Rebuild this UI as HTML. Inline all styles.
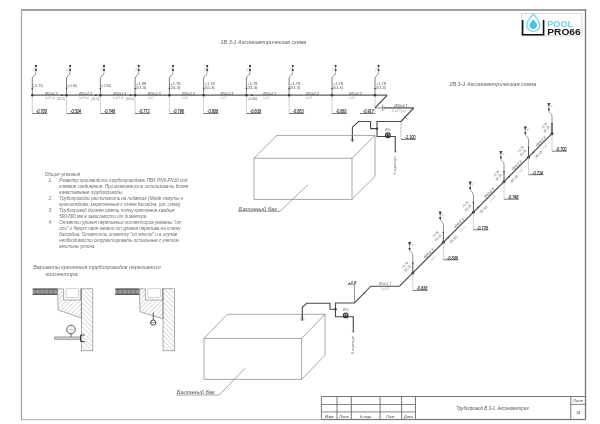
<!DOCTYPE html><html><head><meta charset="utf-8"><style>html,body{margin:0;padding:0;background:#fff;width:600px;height:424px;overflow:hidden}svg{display:block;filter:blur(0.3px)}text{font-family:"Liberation Sans",sans-serif}</style></head><body>
<svg width="600" height="424" viewBox="0 0 600 424">
<rect width="600" height="424" fill="#fff"/>
<line x1="20.90" y1="10.00" x2="586.10" y2="10.00" stroke="#808080" stroke-width="1.5" />
<line x1="21.50" y1="9.30" x2="21.50" y2="420.10" stroke="#a4a4a4" stroke-width="1.2" />
<line x1="585.50" y1="9.30" x2="585.50" y2="420.10" stroke="#747474" stroke-width="1.3" />
<line x1="20.90" y1="419.60" x2="586.10" y2="419.60" stroke="#b8b8b8" stroke-width="1.2" />
<text x="220.6" y="43.8" font-size="5.1" fill="#5a5a5a" font-style="italic" textLength="85.8" lengthAdjust="spacingAndGlyphs">1В 3-1  Аксонометрическая схема</text>
<text x="449.4" y="86.2" font-size="5.1" fill="#5a5a5a" font-style="italic" textLength="86.8" lengthAdjust="spacingAndGlyphs">2В 3-1  Аксонометрическая схема</text>
<line x1="32.30" y1="95.20" x2="387.00" y2="95.20" stroke="#5c5c5c" stroke-width="1.3" />
<line x1="32.30" y1="95.20" x2="32.30" y2="113.50" stroke="#b0b0b0" stroke-width="0.6" />
<line x1="32.30" y1="113.50" x2="47.30" y2="113.50" stroke="#555" stroke-width="0.8" />
<text x="36.00" y="113.40" font-size="5.0" font-style="italic" fill="#333" stroke="#333" stroke-width="0.15" textLength="10.8" lengthAdjust="spacingAndGlyphs">-0.700</text>
<path d="M32.30,95.20 L32.30,78.3 C32.30,76.0 35.90,75.5 35.90,72.5" stroke="#5e5e5e" stroke-width="0.8" fill="none"/>
<path d="M34.70,65.10 L37.10,65.10 L35.90,67.40 Z" fill="#333"/>
<circle cx="35.90" cy="66.10" r="0.8" fill="#333"/>
<circle cx="35.90" cy="70.00" r="1.05" fill="#333"/>
<line x1="35.90" y1="66.50" x2="35.90" y2="72.00" stroke="#555" stroke-width="0.6" />
<text x="34.30" y="70.6" font-size="3.4" fill="#aaa" text-anchor="end" font-style="italic">2</text>
<circle cx="32.30" cy="88.50" r="0.75" fill="#3a3a3a"/>
<circle cx="32.30" cy="95.20" r="1.3" fill="#3a3a3a"/>
<text x="33.30" y="86.6" font-size="3.9" fill="#4a4a4a" textLength="9.5" lengthAdjust="spacingAndGlyphs">(+1.75)</text>
<text x="51.40" y="94.6" font-size="3.7" fill="#4a4a4a" text-anchor="middle" textLength="13" lengthAdjust="spacingAndGlyphs">Ø50x2.3</text>
<text x="44.90" y="98.6" font-size="2.8" fill="#999" textLength="10" lengthAdjust="spacingAndGlyphs">(L=0.5 м)</text>
<line x1="66.50" y1="95.20" x2="66.50" y2="113.50" stroke="#b0b0b0" stroke-width="0.6" />
<line x1="66.50" y1="113.50" x2="81.50" y2="113.50" stroke="#555" stroke-width="0.8" />
<text x="70.20" y="113.40" font-size="5.0" font-style="italic" fill="#333" stroke="#333" stroke-width="0.15" textLength="10.8" lengthAdjust="spacingAndGlyphs">-0.524</text>
<path d="M66.50,95.20 L66.50,78.3 C66.50,76.0 70.10,75.5 70.10,72.5" stroke="#5e5e5e" stroke-width="0.8" fill="none"/>
<path d="M68.90,65.10 L71.30,65.10 L70.10,67.40 Z" fill="#333"/>
<circle cx="70.10" cy="66.10" r="0.8" fill="#333"/>
<circle cx="70.10" cy="70.00" r="1.05" fill="#333"/>
<line x1="70.10" y1="66.50" x2="70.10" y2="72.00" stroke="#555" stroke-width="0.6" />
<text x="68.50" y="70.6" font-size="3.4" fill="#aaa" text-anchor="end" font-style="italic">2</text>
<circle cx="66.50" cy="88.50" r="0.75" fill="#3a3a3a"/>
<circle cx="66.50" cy="95.20" r="1.3" fill="#3a3a3a"/>
<text x="67.50" y="86.6" font-size="3.9" fill="#4a4a4a" textLength="9.5" lengthAdjust="spacingAndGlyphs">(+1.36)</text>
<text x="85.45" y="94.6" font-size="3.7" fill="#4a4a4a" text-anchor="middle" textLength="13" lengthAdjust="spacingAndGlyphs">Ø50x2.3</text>
<text x="78.95" y="98.6" font-size="2.8" fill="#999" textLength="10" lengthAdjust="spacingAndGlyphs">(L=0.5 м)</text>
<circle cx="62.00" cy="95.20" r="0.9" fill="#3a3a3a"/>
<text x="65.00" y="99.6" font-size="3.4" fill="#666" text-anchor="end" textLength="7.5" lengthAdjust="spacingAndGlyphs">(51.5)</text>
<line x1="100.40" y1="95.20" x2="100.40" y2="113.50" stroke="#b0b0b0" stroke-width="0.6" />
<line x1="100.40" y1="113.50" x2="115.40" y2="113.50" stroke="#555" stroke-width="0.8" />
<text x="104.10" y="113.40" font-size="5.0" font-style="italic" fill="#333" stroke="#333" stroke-width="0.15" textLength="10.8" lengthAdjust="spacingAndGlyphs">-0.748</text>
<path d="M100.40,95.20 L100.40,78.3 C100.40,76.0 104.00,75.5 104.00,72.5" stroke="#5e5e5e" stroke-width="0.8" fill="none"/>
<path d="M102.80,65.10 L105.20,65.10 L104.00,67.40 Z" fill="#333"/>
<circle cx="104.00" cy="66.10" r="0.8" fill="#333"/>
<circle cx="104.00" cy="70.00" r="1.05" fill="#333"/>
<line x1="104.00" y1="66.50" x2="104.00" y2="72.00" stroke="#555" stroke-width="0.6" />
<text x="102.40" y="70.6" font-size="3.4" fill="#aaa" text-anchor="end" font-style="italic">2</text>
<circle cx="100.40" cy="88.50" r="0.75" fill="#3a3a3a"/>
<circle cx="100.40" cy="95.20" r="1.3" fill="#3a3a3a"/>
<text x="101.40" y="86.6" font-size="3.9" fill="#4a4a4a" textLength="9.5" lengthAdjust="spacingAndGlyphs">(+1.100)</text>
<text x="119.75" y="94.6" font-size="3.7" fill="#4a4a4a" text-anchor="middle" textLength="13" lengthAdjust="spacingAndGlyphs">Ø50x2.3</text>
<text x="113.25" y="98.6" font-size="2.8" fill="#999" textLength="10" lengthAdjust="spacingAndGlyphs">(L=0.5 м)</text>
<circle cx="95.90" cy="95.20" r="0.9" fill="#3a3a3a"/>
<text x="98.90" y="99.6" font-size="3.4" fill="#666" text-anchor="end" textLength="7.5" lengthAdjust="spacingAndGlyphs">(51.5)</text>
<line x1="135.10" y1="95.20" x2="135.10" y2="113.50" stroke="#b0b0b0" stroke-width="0.6" />
<line x1="135.10" y1="113.50" x2="150.10" y2="113.50" stroke="#555" stroke-width="0.8" />
<text x="138.80" y="113.40" font-size="5.0" font-style="italic" fill="#333" stroke="#333" stroke-width="0.15" textLength="10.8" lengthAdjust="spacingAndGlyphs">-0.772</text>
<path d="M135.10,95.20 L135.10,78.3 C135.10,76.0 138.70,75.5 138.70,72.5" stroke="#5e5e5e" stroke-width="0.8" fill="none"/>
<path d="M137.50,65.10 L139.90,65.10 L138.70,67.40 Z" fill="#333"/>
<circle cx="138.70" cy="66.10" r="0.8" fill="#333"/>
<circle cx="138.70" cy="70.00" r="1.05" fill="#333"/>
<line x1="138.70" y1="66.50" x2="138.70" y2="72.00" stroke="#555" stroke-width="0.6" />
<text x="137.10" y="70.6" font-size="3.4" fill="#aaa" text-anchor="end" font-style="italic">2</text>
<circle cx="135.10" cy="88.50" r="0.75" fill="#3a3a3a"/>
<circle cx="135.10" cy="95.20" r="1.3" fill="#3a3a3a"/>
<text x="136.10" y="84.9" font-size="3.9" fill="#4a4a4a" textLength="10" lengthAdjust="spacingAndGlyphs">+1.98</text>
<text x="136.10" y="88.9" font-size="3.7" fill="#4a4a4a" textLength="10" lengthAdjust="spacingAndGlyphs">(51.3)</text>
<text x="154.25" y="94.6" font-size="3.7" fill="#4a4a4a" text-anchor="middle" textLength="13" lengthAdjust="spacingAndGlyphs">Ø50x2.3</text>
<text x="147.75" y="98.6" font-size="2.8" fill="#999" textLength="6" lengthAdjust="spacingAndGlyphs">L=0.5</text>
<circle cx="130.60" cy="95.20" r="0.9" fill="#3a3a3a"/>
<text x="133.60" y="99.6" font-size="3.4" fill="#666" text-anchor="end" textLength="7.5" lengthAdjust="spacingAndGlyphs">(51.5)</text>
<line x1="169.40" y1="95.20" x2="169.40" y2="113.50" stroke="#b0b0b0" stroke-width="0.6" />
<line x1="169.40" y1="113.50" x2="184.40" y2="113.50" stroke="#555" stroke-width="0.8" />
<text x="173.10" y="113.40" font-size="5.0" font-style="italic" fill="#333" stroke="#333" stroke-width="0.15" textLength="10.8" lengthAdjust="spacingAndGlyphs">-0.796</text>
<path d="M169.40,95.20 L169.40,78.3 C169.40,76.0 173.00,75.5 173.00,72.5" stroke="#5e5e5e" stroke-width="0.8" fill="none"/>
<path d="M171.80,65.10 L174.20,65.10 L173.00,67.40 Z" fill="#333"/>
<circle cx="173.00" cy="66.10" r="0.8" fill="#333"/>
<circle cx="173.00" cy="70.00" r="1.05" fill="#333"/>
<line x1="173.00" y1="66.50" x2="173.00" y2="72.00" stroke="#555" stroke-width="0.6" />
<text x="171.40" y="70.6" font-size="3.4" fill="#aaa" text-anchor="end" font-style="italic">2</text>
<circle cx="169.40" cy="88.50" r="0.75" fill="#3a3a3a"/>
<circle cx="169.40" cy="95.20" r="1.3" fill="#3a3a3a"/>
<text x="170.40" y="84.9" font-size="3.9" fill="#4a4a4a" textLength="10" lengthAdjust="spacingAndGlyphs">+1.78</text>
<text x="170.40" y="88.9" font-size="3.7" fill="#4a4a4a" textLength="10" lengthAdjust="spacingAndGlyphs">(51.3)</text>
<text x="188.50" y="94.6" font-size="3.7" fill="#4a4a4a" text-anchor="middle" textLength="13" lengthAdjust="spacingAndGlyphs">Ø50x2.3</text>
<text x="182.00" y="98.6" font-size="2.8" fill="#999" textLength="6" lengthAdjust="spacingAndGlyphs">L=0.5</text>
<line x1="203.60" y1="95.20" x2="203.60" y2="113.50" stroke="#b0b0b0" stroke-width="0.6" />
<line x1="203.60" y1="113.50" x2="218.60" y2="113.50" stroke="#555" stroke-width="0.8" />
<text x="207.30" y="113.40" font-size="5.0" font-style="italic" fill="#333" stroke="#333" stroke-width="0.15" textLength="10.8" lengthAdjust="spacingAndGlyphs">-0.808</text>
<path d="M203.60,95.20 L203.60,78.3 C203.60,76.0 207.20,75.5 207.20,72.5" stroke="#5e5e5e" stroke-width="0.8" fill="none"/>
<path d="M206.00,65.10 L208.40,65.10 L207.20,67.40 Z" fill="#333"/>
<circle cx="207.20" cy="66.10" r="0.8" fill="#333"/>
<circle cx="207.20" cy="70.00" r="1.05" fill="#333"/>
<line x1="207.20" y1="66.50" x2="207.20" y2="72.00" stroke="#555" stroke-width="0.6" />
<text x="205.60" y="70.6" font-size="3.4" fill="#aaa" text-anchor="end" font-style="italic">2</text>
<circle cx="203.60" cy="88.50" r="0.75" fill="#3a3a3a"/>
<circle cx="203.60" cy="95.20" r="1.3" fill="#3a3a3a"/>
<text x="204.60" y="84.9" font-size="3.9" fill="#4a4a4a" textLength="10" lengthAdjust="spacingAndGlyphs">+1.78</text>
<text x="204.60" y="88.9" font-size="3.7" fill="#4a4a4a" textLength="10" lengthAdjust="spacingAndGlyphs">(51.3)</text>
<text x="227.00" y="94.6" font-size="3.7" fill="#4a4a4a" text-anchor="middle" textLength="13" lengthAdjust="spacingAndGlyphs">Ø50x2.3</text>
<text x="220.50" y="98.6" font-size="2.8" fill="#999" textLength="6" lengthAdjust="spacingAndGlyphs">L=0.5</text>
<line x1="246.40" y1="95.20" x2="246.40" y2="113.50" stroke="#b0b0b0" stroke-width="0.6" />
<line x1="246.40" y1="113.50" x2="261.40" y2="113.50" stroke="#555" stroke-width="0.8" />
<text x="250.10" y="113.40" font-size="5.0" font-style="italic" fill="#333" stroke="#333" stroke-width="0.15" textLength="10.8" lengthAdjust="spacingAndGlyphs">-0.838</text>
<path d="M246.40,95.20 L246.40,78.3 C246.40,76.0 250.00,75.5 250.00,72.5" stroke="#5e5e5e" stroke-width="0.8" fill="none"/>
<path d="M248.80,65.10 L251.20,65.10 L250.00,67.40 Z" fill="#333"/>
<circle cx="250.00" cy="66.10" r="0.8" fill="#333"/>
<circle cx="250.00" cy="70.00" r="1.05" fill="#333"/>
<line x1="250.00" y1="66.50" x2="250.00" y2="72.00" stroke="#555" stroke-width="0.6" />
<text x="248.40" y="70.6" font-size="3.4" fill="#aaa" text-anchor="end" font-style="italic">2</text>
<circle cx="246.40" cy="88.50" r="0.75" fill="#3a3a3a"/>
<circle cx="246.40" cy="95.20" r="1.3" fill="#3a3a3a"/>
<text x="247.40" y="84.9" font-size="3.9" fill="#4a4a4a" textLength="10" lengthAdjust="spacingAndGlyphs">+1.78</text>
<text x="247.40" y="88.9" font-size="3.7" fill="#4a4a4a" textLength="10" lengthAdjust="spacingAndGlyphs">(51.3)</text>
<text x="269.75" y="94.6" font-size="3.7" fill="#4a4a4a" text-anchor="middle" textLength="13" lengthAdjust="spacingAndGlyphs">Ø50x2.3</text>
<text x="263.25" y="98.6" font-size="2.8" fill="#999" textLength="6" lengthAdjust="spacingAndGlyphs">L=0.5</text>
<circle cx="251.80" cy="95.20" r="0.9" fill="#3a3a3a"/>
<text x="247.60" y="99.6" font-size="3.4" fill="#666" textLength="10" lengthAdjust="spacingAndGlyphs">+0.802</text>
<line x1="289.10" y1="95.20" x2="289.10" y2="113.50" stroke="#b0b0b0" stroke-width="0.6" />
<line x1="289.10" y1="113.50" x2="304.10" y2="113.50" stroke="#555" stroke-width="0.8" />
<text x="292.80" y="113.40" font-size="5.0" font-style="italic" fill="#333" stroke="#333" stroke-width="0.15" textLength="10.8" lengthAdjust="spacingAndGlyphs">-0.853</text>
<path d="M289.10,95.20 L289.10,78.3 C289.10,76.0 292.70,75.5 292.70,72.5" stroke="#5e5e5e" stroke-width="0.8" fill="none"/>
<path d="M291.50,65.10 L293.90,65.10 L292.70,67.40 Z" fill="#333"/>
<circle cx="292.70" cy="66.10" r="0.8" fill="#333"/>
<circle cx="292.70" cy="70.00" r="1.05" fill="#333"/>
<line x1="292.70" y1="66.50" x2="292.70" y2="72.00" stroke="#555" stroke-width="0.6" />
<text x="291.10" y="70.6" font-size="3.4" fill="#aaa" text-anchor="end" font-style="italic">2</text>
<circle cx="289.10" cy="88.50" r="0.75" fill="#3a3a3a"/>
<circle cx="289.10" cy="95.20" r="1.3" fill="#3a3a3a"/>
<text x="290.10" y="84.9" font-size="3.9" fill="#4a4a4a" textLength="10" lengthAdjust="spacingAndGlyphs">+1.78</text>
<text x="290.10" y="88.9" font-size="3.7" fill="#4a4a4a" textLength="10" lengthAdjust="spacingAndGlyphs">(51.3)</text>
<text x="312.55" y="94.6" font-size="3.7" fill="#4a4a4a" text-anchor="middle" textLength="13" lengthAdjust="spacingAndGlyphs">Ø50x2.3</text>
<text x="306.05" y="98.6" font-size="2.8" fill="#999" textLength="6" lengthAdjust="spacingAndGlyphs">L=0.5</text>
<line x1="332.00" y1="95.20" x2="332.00" y2="113.50" stroke="#b0b0b0" stroke-width="0.6" />
<line x1="332.00" y1="113.50" x2="347.00" y2="113.50" stroke="#555" stroke-width="0.8" />
<text x="335.70" y="113.40" font-size="5.0" font-style="italic" fill="#333" stroke="#333" stroke-width="0.15" textLength="10.8" lengthAdjust="spacingAndGlyphs">-0.883</text>
<path d="M332.00,95.20 L332.00,78.3 C332.00,76.0 335.60,75.5 335.60,72.5" stroke="#5e5e5e" stroke-width="0.8" fill="none"/>
<path d="M334.40,65.10 L336.80,65.10 L335.60,67.40 Z" fill="#333"/>
<circle cx="335.60" cy="66.10" r="0.8" fill="#333"/>
<circle cx="335.60" cy="70.00" r="1.05" fill="#333"/>
<line x1="335.60" y1="66.50" x2="335.60" y2="72.00" stroke="#555" stroke-width="0.6" />
<text x="334.00" y="70.6" font-size="3.4" fill="#aaa" text-anchor="end" font-style="italic">2</text>
<circle cx="332.00" cy="88.50" r="0.75" fill="#3a3a3a"/>
<circle cx="332.00" cy="95.20" r="1.3" fill="#3a3a3a"/>
<text x="333.00" y="84.9" font-size="3.9" fill="#4a4a4a" textLength="10" lengthAdjust="spacingAndGlyphs">+1.78</text>
<text x="333.00" y="88.9" font-size="3.7" fill="#4a4a4a" textLength="10" lengthAdjust="spacingAndGlyphs">(51.3)</text>
<text x="355.50" y="94.6" font-size="3.7" fill="#4a4a4a" text-anchor="middle" textLength="13" lengthAdjust="spacingAndGlyphs">Ø50x2.3</text>
<text x="349.00" y="98.6" font-size="2.8" fill="#999" textLength="6" lengthAdjust="spacingAndGlyphs">L=0.5</text>
<line x1="375.00" y1="95.20" x2="375.00" y2="113.50" stroke="#b0b0b0" stroke-width="0.6" />
<line x1="360.00" y1="113.50" x2="375.00" y2="113.50" stroke="#555" stroke-width="0.8" />
<text x="363.00" y="113.40" font-size="5.0" font-style="italic" fill="#333" stroke="#333" stroke-width="0.15" textLength="10.8" lengthAdjust="spacingAndGlyphs">-0.917</text>
<path d="M375.00,95.20 L375.00,78.3 C375.00,76.0 378.60,75.5 378.60,72.5" stroke="#5e5e5e" stroke-width="0.8" fill="none"/>
<path d="M377.40,65.10 L379.80,65.10 L378.60,67.40 Z" fill="#333"/>
<circle cx="378.60" cy="66.10" r="0.8" fill="#333"/>
<circle cx="378.60" cy="70.00" r="1.05" fill="#333"/>
<line x1="378.60" y1="66.50" x2="378.60" y2="72.00" stroke="#555" stroke-width="0.6" />
<text x="377.00" y="70.6" font-size="3.4" fill="#aaa" text-anchor="end" font-style="italic">2</text>
<circle cx="375.00" cy="88.50" r="0.75" fill="#3a3a3a"/>
<circle cx="375.00" cy="95.20" r="1.3" fill="#3a3a3a"/>
<text x="376.00" y="84.9" font-size="3.9" fill="#4a4a4a" textLength="10" lengthAdjust="spacingAndGlyphs">+1.78</text>
<text x="376.00" y="88.9" font-size="3.7" fill="#4a4a4a" textLength="10" lengthAdjust="spacingAndGlyphs">(51.3)</text>
<polyline points="387.30,95.20 375.00,107.90" stroke="#474747" stroke-width="1.2" fill="none" />
<line x1="375.00" y1="107.90" x2="382.60" y2="107.90" stroke="#777" stroke-width="0.8" />
<line x1="383.40" y1="107.90" x2="413.80" y2="107.90" stroke="#474747" stroke-width="1.2" />
<polyline points="413.80,107.90 401.00,121.50" stroke="#474747" stroke-width="1.2" fill="none" />
<text x="401" y="107.3" font-size="3.7" fill="#4a4a4a" text-anchor="middle" textLength="13" lengthAdjust="spacingAndGlyphs">Ø50x2.7</text>
<text x="399.00" y="111.60" font-size="2.8" fill="#999" text-anchor="middle" >(L=0.75 м)</text>
<line x1="382.60" y1="104.60" x2="382.60" y2="111.00" stroke="#666" stroke-width="0.7" />
<line x1="384.20" y1="105.80" x2="384.20" y2="110.00" stroke="#888" stroke-width="0.5" />
<line x1="404.50" y1="116.50" x2="407.50" y2="119.50" stroke="#555" stroke-width="0.6" />
<line x1="401.00" y1="121.50" x2="401.00" y2="139.40" stroke="#aaa" stroke-width="0.7" />
<line x1="401.00" y1="139.40" x2="416.00" y2="139.40" stroke="#555" stroke-width="0.8" />
<text x="404.70" y="139.30" font-size="5.0" font-style="italic" fill="#333" stroke="#333" stroke-width="0.15" textLength="10.8" lengthAdjust="spacingAndGlyphs">-1.100</text>
<polyline points="401.00,121.50 377.00,121.50 377.00,136.50 395.30,136.50 395.30,152.00" stroke="#474747" stroke-width="1.1" fill="none" />
<line x1="393.80" y1="152.00" x2="396.80" y2="152.00" stroke="#555" stroke-width="0.5" />
<polyline points="352.40,141.50 352.40,127.20 358.60,121.50 370.60,121.50 370.60,128.60 377.00,128.60" stroke="#474747" stroke-width="1.1" fill="none" />
<circle cx="377.00" cy="128.60" r="1.2" fill="#3a3a3a"/>
<circle cx="387.8" cy="135.2" r="2.3" fill="none" stroke="#3a3a3a" stroke-width="1.3"/>
<path d="M385.3,137.2 L387.8,133.6 L390.3,137.2 Z" fill="#3a3a3a"/>
<text x="387.80" y="130.60" font-size="3.0" fill="#6e6e6e" text-anchor="middle" >Ø50</text>
<text x="395.3" y="165.5" font-size="3.0" fill="#777" text-anchor="middle" transform="rotate(-90 395.3 165.5)" dy="1">В подающую</text>
<ellipse cx="352.4" cy="140.0" rx="2.3" ry="1.7" fill="#c8c8c8"/>
<line x1="352.40" y1="136.50" x2="352.40" y2="141.50" stroke="#474747" stroke-width="1.1" />
<rect x="254.0" y="158.2" width="98.0" height="41.10000000000002" fill="none" stroke="#8a8a8a" stroke-width="0.75"/>
<polyline points="254.00,158.20 277.00,135.40 375.00,135.40 375.00,176.50 352.00,199.30" stroke="#8a8a8a" stroke-width="0.75" fill="none" />
<line x1="352.00" y1="158.20" x2="375.00" y2="135.40" stroke="#8a8a8a" stroke-width="0.75" />
<polyline points="308.00,184.70 280.00,211.30 238.00,211.30" stroke="#666" stroke-width="0.6" fill="none" />
<text x="238.6" y="210.6" font-size="5.4" fill="#555" font-style="italic" textLength="38.5" lengthAdjust="spacingAndGlyphs">Балонный бак</text>
<rect x="204.0" y="338.3" width="97.69999999999999" height="41.0" fill="none" stroke="#8a8a8a" stroke-width="0.75"/>
<polyline points="204.00,338.30 227.30,314.30 325.00,314.30 325.00,355.30 301.70,379.30" stroke="#8a8a8a" stroke-width="0.75" fill="none" />
<line x1="301.70" y1="338.30" x2="325.00" y2="314.30" stroke="#8a8a8a" stroke-width="0.75" />
<polyline points="245.00,368.30 219.20,395.00 176.00,395.00" stroke="#666" stroke-width="0.6" fill="none" />
<text x="176.8" y="394.3" font-size="5.4" fill="#555" font-style="italic" textLength="38.0" lengthAdjust="spacingAndGlyphs">Балонный бак</text>
<line x1="552.00" y1="133.70" x2="399.50" y2="286.20" stroke="#4e4e4e" stroke-width="1.2" />
<circle cx="552.00" cy="133.70" r="1.5" fill="#3a3a3a"/>
<line x1="552.00" y1="133.70" x2="552.00" y2="151.20" stroke="#b5b5b5" stroke-width="0.6" />
<line x1="552.00" y1="151.20" x2="567.00" y2="151.20" stroke="#555" stroke-width="0.8" />
<text x="555.70" y="151.10" font-size="5.0" font-style="italic" fill="#333" stroke="#333" stroke-width="0.15" textLength="10.8" lengthAdjust="spacingAndGlyphs">-0.700</text>
<line x1="552.00" y1="133.70" x2="552.00" y2="123.20" stroke="#333" stroke-width="1.3" />
<circle cx="552.00" cy="123.70" r="0.8" fill="#3a3a3a"/>
<path d="M552.00,123.70 L552.00,116.20 C552.00,113.20 548.90,113.20 548.90,110.50" stroke="#777" stroke-width="0.8" fill="none"/>
<path d="M547.30,102.90 L550.30,102.90 L549.20,106.10 L548.40,106.10 Z" fill="#3a3a3a"/>
<line x1="548.80" y1="105.50" x2="548.80" y2="109.50" stroke="#555" stroke-width="0.6" />
<circle cx="548.80" cy="109.50" r="1.05" fill="#333"/>
<path d="M551.00,107.70 L551.00,105.50 L552.80,104.90" stroke="#aaa" stroke-width="0.5" fill="none"/>
<text x="544.00" y="125.70" dy="1.2" font-size="3.5" fill="#444" text-anchor="middle" transform="rotate(-45 544.00 125.70)" textLength="7.5" lengthAdjust="spacingAndGlyphs">+1.78</text>
<text x="546.40" y="129.10" dy="1.2" font-size="3.3" fill="#444" text-anchor="middle" transform="rotate(-45 546.40 129.10)" textLength="7.5" lengthAdjust="spacingAndGlyphs">(51.3)</text>
<text x="541.75" y="142.15" font-size="3.6" fill="#4a4a4a" text-anchor="middle" transform="rotate(-45 541.75 142.15)" textLength="12.5" lengthAdjust="spacingAndGlyphs">Ø50x2.3</text>
<text x="544.25" y="147.05" dy="1.0" font-size="2.7" fill="#999" text-anchor="middle" transform="rotate(-45 544.25 147.05)">L=0.5</text>
<circle cx="528.50" cy="157.20" r="1.5" fill="#3a3a3a"/>
<line x1="528.50" y1="157.20" x2="528.50" y2="174.70" stroke="#b5b5b5" stroke-width="0.6" />
<line x1="528.50" y1="174.70" x2="543.50" y2="174.70" stroke="#555" stroke-width="0.8" />
<text x="532.20" y="174.60" font-size="5.0" font-style="italic" fill="#333" stroke="#333" stroke-width="0.15" textLength="10.8" lengthAdjust="spacingAndGlyphs">-0.724</text>
<line x1="528.50" y1="157.20" x2="528.50" y2="146.70" stroke="#555" stroke-width="1.0" />
<circle cx="528.50" cy="147.20" r="0.8" fill="#3a3a3a"/>
<path d="M528.50,147.20 L528.50,139.70 C528.50,136.70 525.40,136.70 525.40,134.00" stroke="#777" stroke-width="0.8" fill="none"/>
<path d="M523.80,126.40 L526.80,126.40 L525.70,129.60 L524.90,129.60 Z" fill="#3a3a3a"/>
<line x1="525.30" y1="129.00" x2="525.30" y2="133.00" stroke="#555" stroke-width="0.6" />
<circle cx="525.30" cy="133.00" r="1.05" fill="#333"/>
<path d="M527.50,131.20 L527.50,129.00 L529.30,128.40" stroke="#aaa" stroke-width="0.5" fill="none"/>
<text x="520.50" y="149.20" dy="1.2" font-size="3.5" fill="#444" text-anchor="middle" transform="rotate(-45 520.50 149.20)" textLength="7.5" lengthAdjust="spacingAndGlyphs">+1.78</text>
<text x="522.90" y="152.60" dy="1.2" font-size="3.3" fill="#444" text-anchor="middle" transform="rotate(-45 522.90 152.60)" textLength="7.5" lengthAdjust="spacingAndGlyphs">(51.3)</text>
<text x="517.75" y="166.15" font-size="3.6" fill="#4a4a4a" text-anchor="middle" transform="rotate(-45 517.75 166.15)" textLength="12.5" lengthAdjust="spacingAndGlyphs">Ø50x2.3</text>
<text x="520.25" y="171.05" dy="1.0" font-size="2.7" fill="#999" text-anchor="middle" transform="rotate(-45 520.25 171.05)">L=0.5</text>
<text x="538.40" y="154.40" dy="1.2" font-size="3.4" fill="#555" text-anchor="middle" transform="rotate(-45 538.40 154.40)" textLength="9" lengthAdjust="spacingAndGlyphs">(46.52)</text>
<circle cx="533.40" cy="152.30" r="0.85" fill="#3a3a3a"/>
<circle cx="504.00" cy="181.70" r="1.5" fill="#3a3a3a"/>
<line x1="504.00" y1="181.70" x2="504.00" y2="199.20" stroke="#b5b5b5" stroke-width="0.6" />
<line x1="504.00" y1="199.20" x2="519.00" y2="199.20" stroke="#555" stroke-width="0.8" />
<text x="507.70" y="199.10" font-size="5.0" font-style="italic" fill="#333" stroke="#333" stroke-width="0.15" textLength="10.8" lengthAdjust="spacingAndGlyphs">-0.748</text>
<line x1="504.00" y1="181.70" x2="504.00" y2="171.20" stroke="#555" stroke-width="1.0" />
<circle cx="504.00" cy="171.70" r="0.8" fill="#3a3a3a"/>
<path d="M504.00,171.70 L504.00,164.20 C504.00,161.20 500.90,161.20 500.90,158.50" stroke="#777" stroke-width="0.8" fill="none"/>
<path d="M499.30,150.90 L502.30,150.90 L501.20,154.10 L500.40,154.10 Z" fill="#3a3a3a"/>
<line x1="500.80" y1="153.50" x2="500.80" y2="157.50" stroke="#555" stroke-width="0.6" />
<circle cx="500.80" cy="157.50" r="1.05" fill="#333"/>
<path d="M503.00,155.70 L503.00,153.50 L504.80,152.90" stroke="#aaa" stroke-width="0.5" fill="none"/>
<text x="496.00" y="173.70" dy="1.2" font-size="3.5" fill="#444" text-anchor="middle" transform="rotate(-45 496.00 173.70)" textLength="7.5" lengthAdjust="spacingAndGlyphs">+1.78</text>
<text x="498.40" y="177.10" dy="1.2" font-size="3.3" fill="#444" text-anchor="middle" transform="rotate(-45 498.40 177.10)" textLength="7.5" lengthAdjust="spacingAndGlyphs">(51.3)</text>
<text x="490.20" y="193.70" font-size="3.6" fill="#4a4a4a" text-anchor="middle" transform="rotate(-45 490.20 193.70)" textLength="12.5" lengthAdjust="spacingAndGlyphs">Ø50x2.3</text>
<text x="492.70" y="198.60" dy="1.0" font-size="2.7" fill="#999" text-anchor="middle" transform="rotate(-45 492.70 198.60)">L=0.5</text>
<text x="513.90" y="178.90" dy="1.2" font-size="3.4" fill="#555" text-anchor="middle" transform="rotate(-45 513.90 178.90)" textLength="9" lengthAdjust="spacingAndGlyphs">(46.52)</text>
<circle cx="508.90" cy="176.80" r="0.85" fill="#3a3a3a"/>
<circle cx="473.40" cy="212.30" r="1.5" fill="#3a3a3a"/>
<line x1="473.40" y1="212.30" x2="473.40" y2="229.80" stroke="#b5b5b5" stroke-width="0.6" />
<line x1="473.40" y1="229.80" x2="488.40" y2="229.80" stroke="#555" stroke-width="0.8" />
<text x="477.10" y="229.70" font-size="5.0" font-style="italic" fill="#333" stroke="#333" stroke-width="0.15" textLength="10.8" lengthAdjust="spacingAndGlyphs">-0.778</text>
<line x1="473.40" y1="212.30" x2="473.40" y2="201.80" stroke="#555" stroke-width="1.0" />
<circle cx="473.40" cy="202.30" r="0.8" fill="#3a3a3a"/>
<path d="M473.40,202.30 L473.40,194.80 C473.40,191.80 470.30,191.80 470.30,189.10" stroke="#777" stroke-width="0.8" fill="none"/>
<path d="M468.70,181.50 L471.70,181.50 L470.60,184.70 L469.80,184.70 Z" fill="#3a3a3a"/>
<line x1="470.20" y1="184.10" x2="470.20" y2="188.10" stroke="#555" stroke-width="0.6" />
<circle cx="470.20" cy="188.10" r="1.05" fill="#333"/>
<path d="M472.40,186.30 L472.40,184.10 L474.20,183.50" stroke="#aaa" stroke-width="0.5" fill="none"/>
<text x="465.40" y="204.30" dy="1.2" font-size="3.5" fill="#444" text-anchor="middle" transform="rotate(-45 465.40 204.30)" textLength="7.5" lengthAdjust="spacingAndGlyphs">+1.78</text>
<text x="467.80" y="207.70" dy="1.2" font-size="3.3" fill="#444" text-anchor="middle" transform="rotate(-45 467.80 207.70)" textLength="7.5" lengthAdjust="spacingAndGlyphs">(51.3)</text>
<text x="459.90" y="224.00" font-size="3.6" fill="#4a4a4a" text-anchor="middle" transform="rotate(-45 459.90 224.00)" textLength="12.5" lengthAdjust="spacingAndGlyphs">Ø50x2.3</text>
<text x="462.40" y="228.90" dy="1.0" font-size="2.7" fill="#999" text-anchor="middle" transform="rotate(-45 462.40 228.90)">L=0.5</text>
<text x="483.30" y="209.50" dy="1.2" font-size="3.4" fill="#555" text-anchor="middle" transform="rotate(-45 483.30 209.50)" textLength="9" lengthAdjust="spacingAndGlyphs">(46.52)</text>
<circle cx="478.30" cy="207.40" r="0.85" fill="#3a3a3a"/>
<circle cx="443.40" cy="242.30" r="1.5" fill="#3a3a3a"/>
<line x1="443.40" y1="242.30" x2="443.40" y2="259.80" stroke="#b5b5b5" stroke-width="0.6" />
<line x1="443.40" y1="259.80" x2="458.40" y2="259.80" stroke="#555" stroke-width="0.8" />
<text x="447.10" y="259.70" font-size="5.0" font-style="italic" fill="#333" stroke="#333" stroke-width="0.15" textLength="10.8" lengthAdjust="spacingAndGlyphs">-0.808</text>
<line x1="443.40" y1="242.30" x2="443.40" y2="231.80" stroke="#555" stroke-width="1.0" />
<circle cx="443.40" cy="232.30" r="0.8" fill="#3a3a3a"/>
<path d="M443.40,232.30 L443.40,224.80 C443.40,221.80 440.30,221.80 440.30,219.10" stroke="#777" stroke-width="0.8" fill="none"/>
<path d="M438.70,211.50 L441.70,211.50 L440.60,214.70 L439.80,214.70 Z" fill="#3a3a3a"/>
<line x1="440.20" y1="214.10" x2="440.20" y2="218.10" stroke="#555" stroke-width="0.6" />
<circle cx="440.20" cy="218.10" r="1.05" fill="#333"/>
<path d="M442.40,216.30 L442.40,214.10 L444.20,213.50" stroke="#aaa" stroke-width="0.5" fill="none"/>
<text x="435.40" y="234.30" dy="1.2" font-size="3.5" fill="#444" text-anchor="middle" transform="rotate(-45 435.40 234.30)" textLength="7.5" lengthAdjust="spacingAndGlyphs">+1.78</text>
<text x="437.80" y="237.70" dy="1.2" font-size="3.3" fill="#444" text-anchor="middle" transform="rotate(-45 437.80 237.70)" textLength="7.5" lengthAdjust="spacingAndGlyphs">(51.3)</text>
<text x="429.60" y="254.30" font-size="3.6" fill="#4a4a4a" text-anchor="middle" transform="rotate(-45 429.60 254.30)" textLength="12.5" lengthAdjust="spacingAndGlyphs">Ø50x2.3</text>
<text x="432.10" y="259.20" dy="1.0" font-size="2.7" fill="#999" text-anchor="middle" transform="rotate(-45 432.10 259.20)">L=0.5</text>
<text x="453.30" y="239.50" dy="1.2" font-size="3.4" fill="#555" text-anchor="middle" transform="rotate(-45 453.30 239.50)" textLength="9" lengthAdjust="spacingAndGlyphs">(46.52)</text>
<circle cx="448.30" cy="237.40" r="0.85" fill="#3a3a3a"/>
<circle cx="412.80" cy="272.90" r="1.5" fill="#3a3a3a"/>
<line x1="412.80" y1="272.90" x2="412.80" y2="290.40" stroke="#b5b5b5" stroke-width="0.6" />
<line x1="412.80" y1="290.40" x2="427.80" y2="290.40" stroke="#555" stroke-width="0.8" />
<text x="416.50" y="290.30" font-size="5.0" font-style="italic" fill="#333" stroke="#333" stroke-width="0.15" textLength="10.8" lengthAdjust="spacingAndGlyphs">-0.838</text>
<line x1="412.80" y1="272.90" x2="412.80" y2="262.40" stroke="#555" stroke-width="1.0" />
<circle cx="412.80" cy="262.90" r="0.8" fill="#3a3a3a"/>
<path d="M412.80,262.90 L412.80,255.40 C412.80,252.40 409.70,252.40 409.70,249.70" stroke="#777" stroke-width="0.8" fill="none"/>
<path d="M408.10,242.10 L411.10,242.10 L410.00,245.30 L409.20,245.30 Z" fill="#3a3a3a"/>
<line x1="409.60" y1="244.70" x2="409.60" y2="248.70" stroke="#555" stroke-width="0.6" />
<circle cx="409.60" cy="248.70" r="1.05" fill="#333"/>
<path d="M411.80,246.90 L411.80,244.70 L413.60,244.10" stroke="#aaa" stroke-width="0.5" fill="none"/>
<text x="404.80" y="264.90" dy="1.2" font-size="3.5" fill="#444" text-anchor="middle" transform="rotate(-45 404.80 264.90)" textLength="7.5" lengthAdjust="spacingAndGlyphs">+1.78</text>
<text x="407.20" y="268.30" dy="1.2" font-size="3.3" fill="#444" text-anchor="middle" transform="rotate(-45 407.20 268.30)" textLength="7.5" lengthAdjust="spacingAndGlyphs">(51.3)</text>
<polyline points="399.50,286.20 370.80,286.20 354.50,303.00 335.50,303.00 335.50,316.70 353.30,316.70 353.30,332.00" stroke="#474747" stroke-width="1.1" fill="none" />
<line x1="351.80" y1="332.00" x2="354.80" y2="332.00" stroke="#555" stroke-width="0.5" />
<text x="385.00" y="284.60" font-size="3.3" fill="#6e6e6e" text-anchor="middle" >Ø50x2.7</text>
<text x="385.00" y="290.00" font-size="2.8" fill="#999" text-anchor="middle" >L=0.8</text>
<line x1="363.50" y1="292.50" x2="365.50" y2="294.50" stroke="#555" stroke-width="0.6" />
<line x1="354.50" y1="303.00" x2="354.50" y2="284.70" stroke="#555" stroke-width="0.6" />
<line x1="354.50" y1="284.70" x2="347.50" y2="284.70" stroke="#555" stroke-width="0.6" />
<text x="348.3" y="283.5" font-size="4.0" font-style="italic" fill="#333" stroke="#333" stroke-width="0.15">+1.8</text>
<polyline points="302.30,320.50 302.30,307.30 306.70,303.30 330.00,303.30 330.00,309.30 335.50,309.30" stroke="#474747" stroke-width="1.1" fill="none" />
<circle cx="335.50" cy="309.30" r="1.2" fill="#3a3a3a"/>
<circle cx="345.7" cy="315.4" r="2.2" fill="none" stroke="#3a3a3a" stroke-width="1.3"/>
<path d="M343.3,317.4 L345.7,313.9 L348.1,317.4 Z" fill="#3a3a3a"/>
<text x="345.70" y="310.80" font-size="3.0" fill="#6e6e6e" text-anchor="middle" >Ø50</text>
<text x="353.3" y="345" font-size="3.0" fill="#777" text-anchor="middle" transform="rotate(-90 353.3 345)" dy="1">В подающую</text>
<ellipse cx="302.3" cy="319.0" rx="2.3" ry="1.7" fill="#c8c8c8"/>
<line x1="302.30" y1="315.50" x2="302.30" y2="320.50" stroke="#474747" stroke-width="1.1" />
<text x="44.7" y="175.70000000000002" font-size="4.7" fill="#6e6e6e" font-style="italic" textLength="35.6" lengthAdjust="spacingAndGlyphs">Общие указания</text>
<text x="48.5" y="182.10000000000002" font-size="4.7" fill="#6e6e6e" font-style="italic">1.</text>
<text x="59.3" y="182.10000000000002" font-size="4.7" fill="#6e6e6e" font-style="italic" textLength="128.2" lengthAdjust="spacingAndGlyphs">Разводку производить трубопроводами ПВХ PN6-PN10 под</text>
<text x="59.3" y="188.0" font-size="4.7" fill="#6e6e6e" font-style="italic" textLength="129.0" lengthAdjust="spacingAndGlyphs">клеевое соединение. При возможности использовать более</text>
<text x="59.3" y="193.9" font-size="4.7" fill="#6e6e6e" font-style="italic" textLength="63.9" lengthAdjust="spacingAndGlyphs">качественные трубопроводы.</text>
<text x="48.5" y="199.8" font-size="4.7" fill="#6e6e6e" font-style="italic">2.</text>
<text x="59.3" y="199.8" font-size="4.7" fill="#6e6e6e" font-style="italic" textLength="123.7" lengthAdjust="spacingAndGlyphs">Трубопроводы расположить на подвесах (Møde хомуты к</text>
<text x="59.3" y="205.9" font-size="4.7" fill="#6e6e6e" font-style="italic" textLength="121.2" lengthAdjust="spacingAndGlyphs">кронштейнам, закрепленным к стене бассейна. (см. схему)</text>
<text x="48.5" y="211.9" font-size="4.7" fill="#6e6e6e" font-style="italic">3.</text>
<text x="59.3" y="211.9" font-size="4.7" fill="#6e6e6e" font-style="italic" textLength="115.5" lengthAdjust="spacingAndGlyphs">Трубопровод должен иметь точку крепления каждые</text>
<text x="59.3" y="217.8" font-size="4.7" fill="#6e6e6e" font-style="italic" textLength="88.3" lengthAdjust="spacingAndGlyphs">500-800 мм в зависимости от диаметра.</text>
<text x="48.5" y="223.70000000000002" font-size="4.7" fill="#6e6e6e" font-style="italic">4.</text>
<text x="59.3" y="223.70000000000002" font-size="4.7" fill="#6e6e6e" font-style="italic" textLength="122.3" lengthAdjust="spacingAndGlyphs">Отметки уровня переливных коллекторов указаны "от</text>
<text x="59.3" y="229.8" font-size="4.7" fill="#6e6e6e" font-style="italic" textLength="121.2" lengthAdjust="spacingAndGlyphs">оси" и берут свое начало от уровня перелива на стену</text>
<text x="59.3" y="235.8" font-size="4.7" fill="#6e6e6e" font-style="italic" textLength="118.0" lengthAdjust="spacingAndGlyphs">бассейна. Отметить отметку "по месту" и в случае</text>
<text x="59.3" y="241.70000000000002" font-size="4.7" fill="#6e6e6e" font-style="italic" textLength="119.5" lengthAdjust="spacingAndGlyphs">необходимости скорректировать остальные с учетом</text>
<text x="59.3" y="247.70000000000002" font-size="4.7" fill="#6e6e6e" font-style="italic" textLength="36.3" lengthAdjust="spacingAndGlyphs">величины уклона.</text>
<text x="33.3" y="269.0" font-size="4.8" fill="#666" font-style="italic" textLength="127.4" lengthAdjust="spacingAndGlyphs">Варианты крепления трубопроводов переливного</text>
<text x="45.6" y="276.3" font-size="4.8" fill="#666" font-style="italic" textLength="32" lengthAdjust="spacingAndGlyphs">коллектора</text>
<defs><pattern id="hatch" patternUnits="userSpaceOnUse" width="3.2" height="3.2" patternTransform="rotate(45)"><line x1="0" y1="0" x2="0" y2="3.2" stroke="#999" stroke-width="0.7"/></pattern><pattern id="hatch2" patternUnits="userSpaceOnUse" width="3.4" height="3.4" patternTransform="rotate(-45)"><line x1="0" y1="0" x2="0" y2="3.4" stroke="#999" stroke-width="0.7"/></pattern><pattern id="hstripe" patternUnits="userSpaceOnUse" width="1.3" height="4"><rect x="0" y="0" width="0.5" height="4" fill="#777"/></pattern></defs>
<rect x="32.7" y="288.8" width="24.699999999999996" height="5.7" fill="#a0a0a0" stroke="none"/>
<rect x="32.7" y="288.8" width="24.699999999999996" height="5.7" fill="url(#hstripe)"/>
<line x1="32.70" y1="289.00" x2="57.40" y2="289.00" stroke="#333" stroke-width="0.9" />
<line x1="32.70" y1="294.30" x2="57.40" y2="294.30" stroke="#333" stroke-width="0.9" />
<path d="M57.4,288.8 L63.6,288.8 L63.6,300 L80.4,300 L80.4,288.8 L81.3,288.8 L81.3,318.0 L58.199999999999996,310.0 Z" fill="url(#hatch)" stroke="#777" stroke-width="0.6"/>
<rect x="66.0" y="288.8" width="12.600000000000005" height="8.8" fill="none" stroke="#aaa" stroke-width="0.5"/>
<rect x="81.3" y="288.8" width="11.5" height="62" fill="url(#hatch2)" stroke="#777" stroke-width="0.6"/>
<rect x="115.3" y="288.8" width="23.89999999999999" height="5.7" fill="#a0a0a0" stroke="none"/>
<rect x="115.3" y="288.8" width="23.89999999999999" height="5.7" fill="url(#hstripe)"/>
<line x1="115.30" y1="289.00" x2="139.20" y2="289.00" stroke="#333" stroke-width="0.9" />
<line x1="115.30" y1="294.30" x2="139.20" y2="294.30" stroke="#333" stroke-width="0.9" />
<path d="M139.2,288.8 L145.4,288.8 L145.4,300 L162.5,300 L162.5,288.8 L163.0,288.8 L163.0,318.9 L140.0,311.8 Z" fill="url(#hatch)" stroke="#777" stroke-width="0.6"/>
<rect x="147.8" y="288.8" width="12.899999999999995" height="8.8" fill="none" stroke="#aaa" stroke-width="0.5"/>
<rect x="163.0" y="288.8" width="11.5" height="62" fill="url(#hatch2)" stroke="#777" stroke-width="0.6"/>
<circle cx="71" cy="329.5" r="4.3" fill="#fff" stroke="#444" stroke-width="0.9"/>
<line x1="66.20" y1="329.50" x2="75.80" y2="329.50" stroke="#999" stroke-width="0.4" />
<line x1="71.00" y1="324.70" x2="71.00" y2="334.30" stroke="#999" stroke-width="0.4" />
<line x1="71.00" y1="333.80" x2="71.00" y2="337.00" stroke="#444" stroke-width="0.8" />
<rect x="54.7" y="337" width="25.7" height="2.2" fill="#ddd" stroke="#555" stroke-width="0.6"/>
<polyline points="84.50,335.00 80.60,335.00 80.60,341.50 84.50,341.50" stroke="#333" stroke-width="1.0" fill="none" />
<line x1="153.30" y1="312.70" x2="153.30" y2="320.00" stroke="#333" stroke-width="0.8" />
<circle cx="153.2" cy="322.6" r="2.6" fill="#fff" stroke="#333" stroke-width="0.9"/>
<line x1="150.00" y1="322.60" x2="156.40" y2="322.60" stroke="#333" stroke-width="0.5" />
<line x1="321.40" y1="396.50" x2="585.50" y2="396.50" stroke="#6a6a6a" stroke-width="0.9" />
<line x1="321.40" y1="404.50" x2="415.50" y2="404.50" stroke="#6a6a6a" stroke-width="0.8" />
<line x1="321.40" y1="411.90" x2="415.50" y2="411.90" stroke="#6a6a6a" stroke-width="0.8" />
<line x1="321.40" y1="419.40" x2="585.50" y2="419.40" stroke="#6a6a6a" stroke-width="0.9" />
<line x1="321.40" y1="396.50" x2="321.40" y2="419.40" stroke="#6a6a6a" stroke-width="0.9" />
<line x1="337.00" y1="396.50" x2="337.00" y2="419.40" stroke="#6a6a6a" stroke-width="0.9" />
<line x1="351.30" y1="396.50" x2="351.30" y2="419.40" stroke="#6a6a6a" stroke-width="0.9" />
<line x1="380.10" y1="396.50" x2="380.10" y2="419.40" stroke="#6a6a6a" stroke-width="0.9" />
<line x1="401.60" y1="396.50" x2="401.60" y2="419.40" stroke="#6a6a6a" stroke-width="0.9" />
<line x1="415.50" y1="396.50" x2="415.50" y2="419.40" stroke="#6a6a6a" stroke-width="0.9" />
<line x1="570.80" y1="396.50" x2="570.80" y2="419.40" stroke="#6a6a6a" stroke-width="0.9" />
<line x1="570.80" y1="404.40" x2="585.50" y2="404.40" stroke="#6a6a6a" stroke-width="0.8" />
<text x="329.2" y="417.7" font-size="3.9" fill="#3a3a3a" font-style="italic" text-anchor="middle" textLength="8.5" lengthAdjust="spacingAndGlyphs">Изм</text>
<text x="344.1" y="417.7" font-size="3.9" fill="#3a3a3a" font-style="italic" text-anchor="middle" textLength="9.5" lengthAdjust="spacingAndGlyphs">Лист</text>
<text x="365.7" y="417.7" font-size="3.9" fill="#3a3a3a" font-style="italic" text-anchor="middle" textLength="12" lengthAdjust="spacingAndGlyphs">№ докум.</text>
<text x="390.8" y="417.7" font-size="3.9" fill="#3a3a3a" font-style="italic" text-anchor="middle" textLength="9" lengthAdjust="spacingAndGlyphs">Подп.</text>
<text x="408.5" y="417.7" font-size="3.9" fill="#3a3a3a" font-style="italic" text-anchor="middle" textLength="9" lengthAdjust="spacingAndGlyphs">Дата</text>
<text x="578" y="402.4" font-size="3.8" fill="#444" font-style="italic" text-anchor="middle">Лист</text>
<text x="578" y="413.8" font-size="3.8" fill="#444" font-style="italic" text-anchor="middle">14</text>
<text x="492.4" y="409.7" font-size="4.5" fill="#555" font-style="italic" text-anchor="middle" textLength="72.5" lengthAdjust="spacingAndGlyphs">Трубопровод В 3-1. Аксонометрия</text>
<rect x="521.3" y="13.5" width="60.7" height="22.4" fill="#fdfdfd" stroke="#c4c4c4" stroke-width="0.6"/>
<polyline points="522.60,20.00 522.60,34.70 543.60,34.70 543.60,20.00" stroke="#111" stroke-width="1.6" fill="none" />
<path d="M533.3,13.8 C535.8,17.6 539.8,20.6 539.8,25.0 C539.8,28.6 537.0,31.2 533.3,31.2 C529.6,31.2 526.8,28.6 526.8,25.0 C526.8,20.6 530.8,17.6 533.3,13.8 Z" fill="#fff" stroke="#86d8f2" stroke-width="1.5"/>
<path d="M533.3,19.2 C534.6,21.2 537.0,23.0 537.0,25.6 C537.0,27.6 535.4,29.0 533.3,29.0 C531.2,29.0 529.6,27.6 529.6,25.6 C529.6,23.0 532.0,21.2 533.3,19.2 Z" fill="#3fc3ec"/>
<text x="547.3" y="26.6" font-size="8.2" font-weight="bold" fill="#72d3f2" textLength="25.8" lengthAdjust="spacingAndGlyphs">POOL</text>
<text x="547.3" y="35.1" font-size="8.2" font-weight="bold" fill="#151515" textLength="33.4" lengthAdjust="spacingAndGlyphs">PRO66</text>
</svg></body></html>
